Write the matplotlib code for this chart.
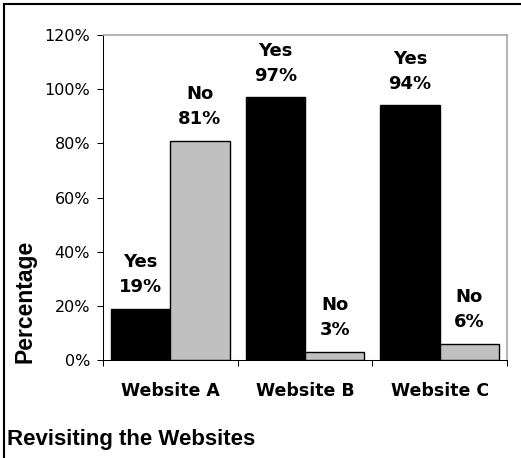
import matplotlib
matplotlib.use("Agg")

import matplotlib.pyplot as plt
from matplotlib.lines import Line2D
from matplotlib.ticker import FixedLocator, PercentFormatter


sites = ["Website A", "Website B", "Website C"]
yes_pct = [19, 97, 94]
no_pct = [81, 3, 6]
y_ticks = [0, 20, 40, 60, 80, 100, 120]

W, H, DPI = 521, 458, 100
LABEL_FONT = "DejaVu Sans"
TITLE_FONT = "Liberation Sans"

fig = plt.figure(figsize=(W / DPI, H / DPI), dpi=DPI)
ax = fig.add_axes([103 / W, 1 - 360 / H, 404 / W, 325 / H])

x = list(range(len(sites)))
bar_w = 0.44

bars_yes = ax.bar(
    [i - bar_w / 2 for i in x],
    yes_pct,
    width=bar_w,
    color="black",
    edgecolor="black",
    linewidth=1.0
)
bars_no = ax.bar(
    [i + bar_w / 2 for i in x],
    no_pct,
    width=bar_w,
    color="#c0c0c0",
    edgecolor="black",
    linewidth=1.0
)

# two-line labels above each bar
for bars, word, vals in [(bars_yes, "Yes", yes_pct), (bars_no, "No", no_pct)]:
    for rect, v in zip(bars, vals):
        ax.annotate(
            f"{word}\n{v}%",
            xy=(rect.get_x() + rect.get_width() / 2, v),
            xytext=(0, 9),
            textcoords="offset points",
            ha="center",
            va="bottom",
            fontsize=13,
            fontweight="bold",
            family=LABEL_FONT,
            linespacing=1.5
        )

ax.set_xlim(-0.5, len(sites) - 0.5)
ax.set_ylim(0, 120)

ax.set_yticks(y_ticks)
ax.yaxis.set_major_formatter(PercentFormatter(decimals=0))
ax.tick_params(axis="y", direction="out", length=4.3, width=0.75, pad=5,
               labelsize=11.5, colors="black")
for lbl in ax.get_yticklabels():
    lbl.set_family(LABEL_FONT)

ax.set_xticks(x)
ax.set_xticklabels(sites, fontsize=12.5, fontweight="bold", family=LABEL_FONT)
ax.tick_params(axis="x", which="major", length=0, pad=16)
ax.xaxis.set_minor_locator(FixedLocator([i - 0.5 for i in range(len(sites) + 1)]))
ax.tick_params(axis="x", which="minor", direction="out", length=4.3, width=0.75)

ax.spines["left"].set_color("black")
ax.spines["bottom"].set_color("black")
ax.spines["left"].set_linewidth(0.75)
ax.spines["bottom"].set_linewidth(0.75)
ax.spines["top"].set_color("#a0a0a0")
ax.spines["right"].set_color("#a0a0a0")
ax.spines["top"].set_linewidth(1.1)
ax.spines["right"].set_linewidth(1.1)

fig.text(
    25 / W, 1 - 301 / H, "Percentage",
    rotation=90, ha="center", va="center",
    fontsize=16.5, fontweight="bold", family=TITLE_FONT
)

fig.text(
    7 / W, 1 - 445 / H, "Revisiting the Websites",
    ha="left", va="baseline",
    fontsize=16, fontweight="bold", family=TITLE_FONT
)

# outer frame (only the top and left edges fall inside the canvas)
fig.add_artist(Line2D([3.5 / W, 3.5 / W], [0, 1 - 3.5 / H],
                      transform=fig.transFigure, color="black", linewidth=1.5))
fig.add_artist(Line2D([3.5 / W, 1], [1 - 3.5 / H, 1 - 3.5 / H],
                      transform=fig.transFigure, color="black", linewidth=1.5))

fig.savefig("out.png", dpi=DPI)
plt.close(fig)
